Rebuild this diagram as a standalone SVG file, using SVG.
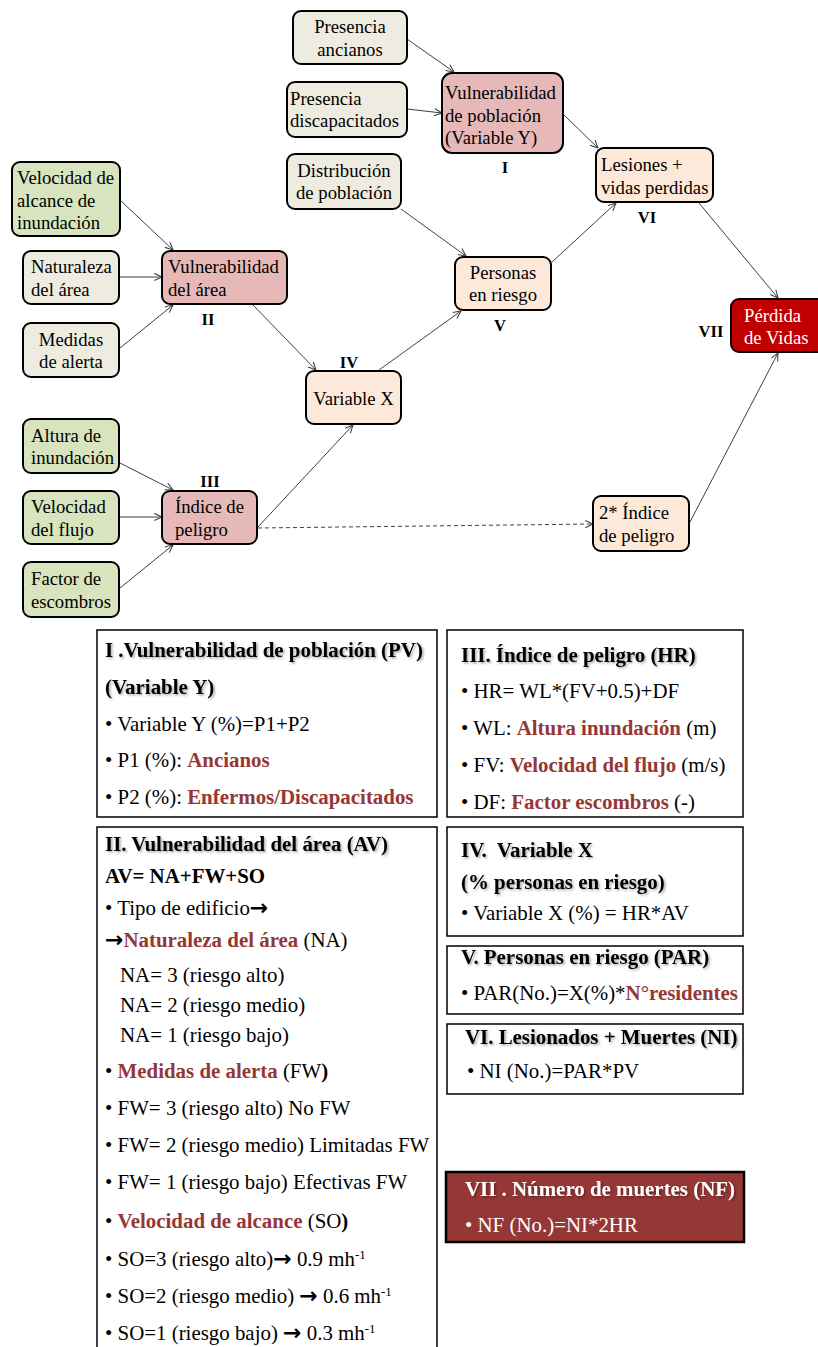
<svg xmlns="http://www.w3.org/2000/svg" width="818" height="1347" viewBox="0 0 818 1347">
<defs>
<style>
text{font-family:"Liberation Serif","Times New Roman",serif;fill:#000}
.node rect{stroke:#000;stroke-width:2}
.gy{fill:#eeece1}.gr{fill:#d7e4bd}.pk{fill:#e6b9b8}.pc{fill:#fde9d9}.rd{fill:#c00000}
.nt{font-size:18.7px}
.c{text-anchor:middle}
.lb{font-size:16.5px;font-weight:bold;text-anchor:middle}
.box rect{fill:#fff;stroke:#000;stroke-width:1.5}
.bt{font-size:20.9px}
.b{font-weight:bold}
.r{fill:#953735;font-weight:bold}
.w{fill:#fff}
.ar{font-family:"DejaVu Sans",sans-serif;font-weight:bold;font-size:22px}
.e{stroke:#404040;stroke-width:1;fill:none;marker-end:url(#a)}
.d{stroke:#404040;stroke-width:1;fill:none;stroke-dasharray:4 3;marker-end:url(#a)}
</style>
<marker id="a" viewBox="0 0 10 10" refX="9.5" refY="5" markerWidth="9" markerHeight="9" markerUnits="userSpaceOnUse" orient="auto">
<path d="M1,1 L9.5,5 L1,9" fill="none" stroke="#404040" stroke-width="1.2"/>
</marker>
<filter id="sh" x="-5%" y="-30%" width="112%" height="170%">
<feDropShadow dx="1.5" dy="1.5" stdDeviation="0.9" flood-color="#000" flood-opacity="0.35"/>
</filter>
</defs>

<g id="connectors">
<line class="e" x1="407" y1="39" x2="454" y2="72"/>
<line class="e" x1="407" y1="109" x2="442" y2="113"/>
<line class="e" x1="564" y1="115" x2="598" y2="148"/>
<line class="e" x1="401" y1="209" x2="466" y2="256"/>
<line class="e" x1="552" y1="262" x2="616" y2="203"/>
<line class="e" x1="699" y1="203" x2="778" y2="298"/>
<line class="e" x1="690" y1="522" x2="778" y2="353"/>
<line class="e" x1="379" y1="370" x2="461" y2="311"/>
<line class="e" x1="120" y1="200" x2="173" y2="250"/>
<line class="e" x1="119" y1="277" x2="162" y2="277"/>
<line class="e" x1="120" y1="348" x2="173" y2="305"/>
<line class="e" x1="253" y1="305" x2="316" y2="370"/>
<line class="e" x1="258" y1="527" x2="353" y2="425"/>
<line class="e" x1="120" y1="463" x2="173" y2="490"/>
<line class="e" x1="119" y1="517" x2="162" y2="517"/>
<line class="e" x1="120" y1="588" x2="173" y2="545"/>
<line class="d" x1="258" y1="528" x2="593" y2="524"/>
</g>

<g id="presencia-ancianos" class="node">
<rect class="gy" x="293" y="11" width="114" height="53" rx="8"/>
<text class="nt c" x="350" y="33">Presencia</text>
<text class="nt c" x="350" y="55.5">ancianos</text>
</g>
<g id="presencia-discapacitados" class="node">
<rect class="gy" x="287" y="82" width="120" height="55" rx="8"/>
<text class="nt" x="290" y="104.5">Presencia</text>
<text class="nt" x="290" y="127">discapacitados</text>
</g>
<g id="distribucion-poblacion" class="node">
<rect class="gy" x="287" y="154" width="114" height="55" rx="8"/>
<text class="nt c" x="344" y="176.5">Distribución</text>
<text class="nt c" x="344" y="199">de población</text>
</g>
<g id="vulnerabilidad-poblacion" class="node">
<rect class="pk" x="442" y="73" width="121" height="80" rx="10"/>
<text class="nt" x="445" y="99">Vulnerabilidad</text>
<text class="nt" x="445" y="121.5">de población</text>
<text class="nt" x="445" y="144">(Variable Y)</text>
</g>
<g id="lesiones" class="node">
<rect class="pc" x="596" y="148" width="117" height="54" rx="8"/>
<text class="nt" x="601" y="171">Lesiones +</text>
<text class="nt" x="601" y="193.5">vidas perdidas</text>
</g>
<g id="personas-riesgo" class="node">
<rect class="pc" x="455" y="257" width="96" height="53" rx="8"/>
<text class="nt c" x="503" y="279">Personas</text>
<text class="nt c" x="503" y="301">en riesgo</text>
</g>
<g id="perdida-vidas" class="node">
<rect class="rd" x="731" y="299" width="100" height="53" rx="8"/>
<text class="nt w" x="744" y="321.5">Pérdida</text>
<text class="nt w" x="744" y="344">de Vidas</text>
</g>
<g id="velocidad-alcance" class="node">
<rect class="gr" x="12" y="162" width="108" height="74" rx="8"/>
<text class="nt" x="17" y="184">Velocidad de</text>
<text class="nt" x="17" y="206.5">alcance de</text>
<text class="nt" x="17" y="229">inundación</text>
</g>
<g id="naturaleza-area" class="node">
<rect class="gy" x="23" y="251" width="96" height="53" rx="8"/>
<text class="nt" x="31" y="273">Naturaleza</text>
<text class="nt" x="31" y="295.5">del área</text>
</g>
<g id="medidas-alerta" class="node">
<rect class="gy" x="23" y="323" width="96" height="54" rx="8"/>
<text class="nt c" x="71" y="345.5">Medidas</text>
<text class="nt c" x="71" y="368">de alerta</text>
</g>
<g id="vulnerabilidad-area" class="node">
<rect class="pk" x="162" y="251" width="125" height="53" rx="8"/>
<text class="nt" x="168" y="273">Vulnerabilidad</text>
<text class="nt" x="168" y="295.5">del área</text>
</g>
<g id="variable-x" class="node">
<rect class="pc" x="306" y="371" width="95" height="53" rx="8"/>
<text class="nt c" x="353.5" y="404.5">Variable X</text>
</g>
<g id="altura-inundacion" class="node">
<rect class="gr" x="23" y="419" width="96" height="54" rx="8"/>
<text class="nt" x="31" y="441.5">Altura de</text>
<text class="nt" x="31" y="464">inundación</text>
</g>
<g id="velocidad-flujo" class="node">
<rect class="gr" x="23" y="491" width="96" height="53" rx="8"/>
<text class="nt" x="31" y="513">Velocidad</text>
<text class="nt" x="31" y="535.5">del flujo</text>
</g>
<g id="factor-escombros" class="node">
<rect class="gr" x="23" y="562" width="96" height="55" rx="8"/>
<text class="nt" x="31" y="585">Factor de</text>
<text class="nt" x="31" y="607.5">escombros</text>
</g>
<g id="indice-peligro" class="node">
<rect class="pk" x="162" y="491" width="95" height="53" rx="8"/>
<text class="nt" x="175" y="513">Índice de</text>
<text class="nt" x="175" y="535.5">peligro</text>
</g>
<g id="indice-peligro-2" class="node">
<rect class="pc" x="593" y="496" width="96" height="55" rx="8"/>
<text class="nt" x="599" y="519">2* Índice</text>
<text class="nt" x="599" y="541.5">de peligro</text>
</g>

<g id="labels">
<text class="lb" x="505" y="173">I</text>
<text class="lb" x="647" y="223">VI</text>
<text class="lb" x="500" y="331">V</text>
<text class="lb" x="711" y="337">VII</text>
<text class="lb" x="208" y="325">II</text>
<text class="lb" x="349" y="368">IV</text>
<text class="lb" x="210" y="487">III</text>
</g>

<g id="box-I" class="box">
<rect x="97" y="630" width="340" height="187"/>
<text class="bt b" x="105" y="657" filter="url(#sh)">I .Vulnerabilidad de población (PV)</text>
<text class="bt b" x="105" y="694" filter="url(#sh)">(Variable Y)</text>
<text class="bt" x="105" y="731">• Variable Y (%)=P1+P2</text>
<text class="bt" x="105" y="767">• P1 (%): <tspan class="r">Ancianos</tspan></text>
<text class="bt" x="105" y="804">• P2 (%): <tspan class="r">Enfermos/Discapacitados</tspan></text>
</g>

<g id="box-III" class="box">
<rect x="447" y="630" width="296" height="187"/>
<text class="bt b" x="461" y="662" filter="url(#sh)">III. Índice de peligro (HR)</text>
<text class="bt" x="461" y="698">• HR= WL*(FV+0.5)+DF</text>
<text class="bt" x="461" y="735">• WL: <tspan class="r">Altura inundación</tspan> (m)</text>
<text class="bt" x="461" y="772">• FV: <tspan class="r">Velocidad del flujo</tspan> (m/s)</text>
<text class="bt" x="461" y="809">• DF: <tspan class="r">Factor escombros</tspan> (-)</text>
</g>

<g id="box-II" class="box">
<rect x="97" y="827" width="340" height="540"/>
<text class="bt b" x="105" y="851" filter="url(#sh)">II. Vulnerabilidad del área (AV)</text>
<text class="bt b" x="105" y="883">AV= NA+FW+SO</text>
<text class="bt" x="105" y="915">• Tipo de edificio<tspan class="ar">→</tspan></text>
<text class="bt" x="105" y="947"><tspan class="ar">→</tspan><tspan class="r">Naturaleza del área</tspan> (NA)</text>
<text class="bt" x="120" y="982">NA= 3 (riesgo alto)</text>
<text class="bt" x="120" y="1012">NA= 2 (riesgo medio)</text>
<text class="bt" x="120" y="1042">NA= 1 (riesgo bajo)</text>
<text class="bt" x="105" y="1078">• <tspan class="r">Medidas de alerta</tspan> (FW<tspan class="b">)</tspan></text>
<text class="bt" x="105" y="1115">• FW= 3 (riesgo alto) No FW</text>
<text class="bt" x="105" y="1152">• FW= 2 (riesgo medio) Limitadas FW</text>
<text class="bt" x="105" y="1189">• FW= 1 (riesgo bajo) Efectivas FW</text>
<text class="bt" x="105" y="1228">• <tspan class="r">Velocidad de alcance</tspan> (SO<tspan class="b">)</tspan></text>
<text class="bt" x="105" y="1266">• SO=3 (riesgo alto)<tspan class="ar">→</tspan> 0.9 mh<tspan font-size="13" dy="-7">-1</tspan></text>
<text class="bt" x="105" y="1303">• SO=2 (riesgo medio) <tspan class="ar">→</tspan> 0.6 mh<tspan font-size="13" dy="-7">-1</tspan></text>
<text class="bt" x="105" y="1340">• SO=1 (riesgo bajo) <tspan class="ar">→</tspan> 0.3 mh<tspan font-size="13" dy="-7">-1</tspan></text>
</g>

<g id="box-IV" class="box">
<rect x="447" y="827" width="296" height="109"/>
<text class="bt b" x="461" y="857" filter="url(#sh)" xml:space="preserve">IV.  Variable X</text>
<text class="bt b" x="461" y="889" filter="url(#sh)">(% personas en riesgo)</text>
<text class="bt" x="461" y="920">• Variable X (%) = HR*AV</text>
</g>

<g id="box-V" class="box">
<rect x="447" y="946" width="296" height="68"/>
<text class="bt b" x="461" y="964" filter="url(#sh)">V. Personas en riesgo (PAR)</text>
<text class="bt" x="461" y="1000">• PAR(No.)=X(%)*<tspan class="r">N°residentes</tspan></text>
</g>

<g id="box-VI" class="box">
<rect x="447" y="1024" width="296" height="70"/>
<text class="bt b" x="465" y="1044" filter="url(#sh)">VI. Lesionados + Muertes (NI)</text>
<text class="bt" x="467" y="1078">• NI (No.)=PAR*PV</text>
</g>

<g id="box-VII">
<rect x="446" y="1172" width="298" height="70" fill="#953735" stroke="#000" stroke-width="2.5"/>
<text class="bt b w" x="465" y="1196" filter="url(#sh)">VII . Número de muertes (NF)</text>
<text class="bt w" x="465" y="1232">• NF (No.)=NI*2HR</text>
</g>
</svg>
